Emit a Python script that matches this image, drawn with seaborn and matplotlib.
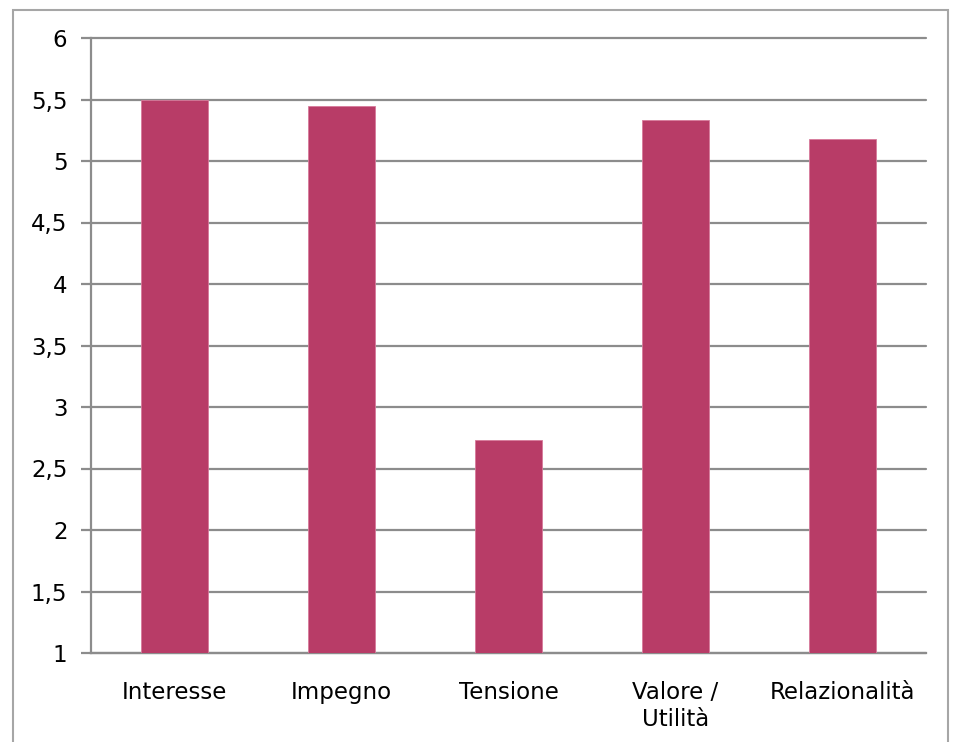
import matplotlib
matplotlib.use("Agg")
import matplotlib.pyplot as plt
import seaborn as sns
import pandas as pd
from matplotlib.patches import Rectangle
from matplotlib.ticker import FuncFormatter

categories = ["Interesse", "Impegno", "Tensione", "Valore /\nUtilità", "Relazionalità"]
values = [5.50, 5.45, 2.73, 5.33, 5.18]
y_ticks = [1, 1.5, 2, 2.5, 3, 3.5, 4, 4.5, 5, 5.5, 6]

df = pd.DataFrame({"categoria": categories, "valore": values})

sns.set_style("white")
plt.rcParams["font.family"] = ["DejaVu Sans"]

grey = "#8c8c8c"
bar_color = "#b83c67"

fig = plt.figure(figsize=(9.54, 7.42), dpi=100)
ax = fig.add_axes([91 / 954, 89 / 742, 835 / 954, 615 / 742])

sns.barplot(data=df, x="categoria", y="valore", color=bar_color, width=0.4,
            saturation=1, edgecolor="#d77a9b", linewidth=0.6, ax=ax, zorder=3)

ax.set_ylim(1, 6)
ax.set_xlim(-0.5, len(categories) - 0.5)
ax.set_yticks(y_ticks)
ax.yaxis.set_major_formatter(FuncFormatter(lambda v, p: f"{v:g}".replace(".", ",")))
ax.grid(axis="y", color=grey, linewidth=1.6, zorder=0)
ax.set_axisbelow(True)
for gl in ax.get_ygridlines():
    gl.set_clip_on(False)

ax.set_xlabel("")
ax.set_ylabel("")

for side in ["top", "right"]:
    ax.spines[side].set_visible(False)
for side in ["left", "bottom"]:
    ax.spines[side].set_color(grey)
    ax.spines[side].set_linewidth(1.6)

# x ticks at category boundaries, labels centred under bars
ax.set_xticks(range(len(categories)))
ax.set_xticklabels(categories, fontsize=16.5, linespacing=1.25)
ax.set_xticks([i - 0.5 for i in range(len(categories) + 1)], minor=True)
ax.tick_params(axis="x", which="major", length=0, pad=20, labelcolor="black")
ax.tick_params(axis="x", which="minor", length=7, width=1.6, color=grey, direction="out")
ax.tick_params(axis="y", which="major", length=7, width=1.6, color=grey,
               direction="out", labelsize=16.5, pad=10, labelcolor="black")
ax.tick_params(bottom=True, left=True)

# figure frame
fig.patches.append(Rectangle((13 / 954, -0.01), 935 / 954, 1 - 10 / 742 + 0.01,
                             transform=fig.transFigure, fill=False,
                             edgecolor="#a6a6a6", linewidth=1.5))

fig.savefig("out.png", dpi=100)
